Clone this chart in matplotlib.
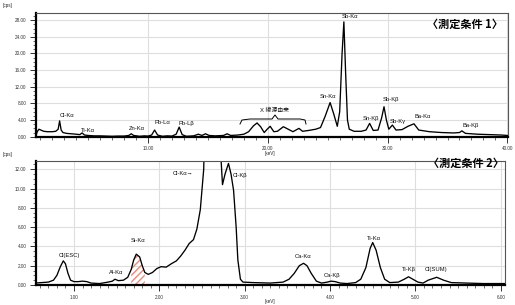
import matplotlib
matplotlib.use("Agg")
import matplotlib.pyplot as plt
from matplotlib.ticker import MultipleLocator, FormatStrFormatter

plt.rcParams['font.family'] = ['Liberation Sans', 'Noto Sans CJK JP', 'DejaVu Sans']

# ---- Spectrum 1 (measurement condition 1) ----
kev1 = [0.65, 0.75, 0.9, 1.05, 1.3, 1.6, 2.0, 2.3, 2.5, 2.62, 2.75, 2.9, 3.2, 3.6, 4.0, 4.3,
        4.5, 4.7, 5.0, 5.5, 6.0, 6.5, 7.0, 7.5, 8.0, 8.4, 8.6, 8.8, 9.3, 9.7, 10.0, 10.3, 10.55,
        10.8, 11.2, 11.6, 12.0, 12.35, 12.6, 12.85, 13.2, 13.8, 14.2, 14.5, 14.8, 15.1, 15.6,
        16.3, 16.6, 16.9, 17.5, 18.0, 18.4, 18.8, 19.1, 19.4, 19.7, 19.95, 20.2, 20.5, 20.8,
        21.3, 21.7, 22.1, 22.6, 22.9, 23.4, 24.0, 24.4, 24.8, 25.2, 25.5, 25.8, 26.0, 26.2,
        26.35, 26.5, 26.65, 26.8, 27.2, 27.8, 28.2, 28.5, 28.8, 29.2, 29.5, 29.7, 29.9, 30.1,
        30.4, 30.7, 31.2, 31.7, 32.2, 32.6, 33.5, 34.5, 35.5, 36.0, 36.2, 36.5, 37.5, 38.5,
        39.5, 40.0]
cps1 = [0.2, 1.2, 1.8, 1.6, 1.3, 1.2, 1.2, 1.3, 1.8, 3.8, 1.6, 1.0, 0.8, 0.7, 0.6, 0.5,
        0.9, 0.4, 0.3, 0.2, 0.2, 0.15, 0.1, 0.15, 0.15, 0.3, 0.7, 0.3, 0.1, 0.2, 0.15, 0.4, 1.6,
        0.4, 0.1, 0.2, 0.15, 0.6, 2.3, 0.5, 0.1, 0.2, 0.6, 0.3, 0.7, 0.3, 0.2,
        0.3, 0.7, 0.3, 0.4, 0.6, 1.2, 2.6, 3.3, 2.4, 1.0, 1.8, 2.5, 1.2, 1.3,
        2.4, 1.8, 1.2, 2.0, 1.3, 1.5, 1.8, 2.2, 5.0, 8.2, 5.5, 2.5, 6.0, 20.0,
        27.6, 15.0, 4.0, 1.8, 1.3, 1.3, 1.6, 3.2, 1.5, 1.6, 4.5, 7.2, 4.0, 1.8,
        2.8, 1.6, 1.7, 2.5, 3.1, 1.6, 1.2, 1.0, 0.9, 1.0, 1.4, 0.8, 0.6, 0.5,
        0.4, 0.3]

# ---- Spectrum 2 (measurement condition 2) ----
kev2 = [0.55, 0.62, 0.7, 0.76, 0.8, 0.84, 0.875, 0.9, 0.93, 0.96, 1.0, 1.05, 1.1, 1.15, 1.2,
        1.3, 1.4, 1.45, 1.48, 1.52, 1.58, 1.63, 1.67, 1.70, 1.73, 1.77, 1.80, 1.83, 1.87, 1.92,
        1.97, 2.02, 2.08, 2.14, 2.2, 2.25, 2.3, 2.35, 2.4, 2.44, 2.48, 2.52, 2.56, 2.62, 2.68,
        2.72, 2.74, 2.77, 2.81, 2.84, 2.87, 2.9, 2.92, 2.95, 2.98, 3.1, 3.3, 3.45, 3.52, 3.58,
        3.64, 3.69, 3.73, 3.78, 3.84, 3.9, 3.97, 4.01, 4.06, 4.12, 4.2, 4.3, 4.36, 4.42, 4.47,
        4.5, 4.54, 4.59, 4.64, 4.7, 4.8, 4.87, 4.92, 4.97, 5.03, 5.09, 5.15, 5.25, 5.33, 5.42,
        5.6, 5.8, 6.05]
cps2 = [0.2, 0.25, 0.3, 0.5, 1.0, 1.9, 2.5, 2.2, 1.2, 0.5, 0.35, 0.35, 0.4, 0.35, 0.2,
        0.15, 0.3, 0.4, 0.6, 0.45, 0.5, 0.8, 1.6, 2.6, 3.2, 2.9, 2.0, 1.3, 1.1, 1.3,
        1.7, 1.9, 1.85, 2.2, 2.5, 3.0, 3.6, 4.3, 4.7, 5.8, 7.8, 12.0, 30.0, 60.0, 30.0,
        13.5, 10.4, 11.5, 12.6, 11.5, 9.8, 6.0, 2.6, 0.6, 0.3, 0.25, 0.2, 0.3, 0.6, 1.2,
        2.0, 2.25, 2.0, 1.2, 0.4, 0.2, 0.3, 0.4, 0.35, 0.2, 0.15, 0.25, 0.6, 1.8, 3.8,
        4.4, 3.6, 1.8, 0.6, 0.25, 0.3, 0.6, 0.85, 0.6, 0.3, 0.2, 0.5, 0.8, 0.5, 0.25,
        0.2, 0.15, 0.15]

si_range = (1.65, 1.86)

labels1 = [("Cl-Kα", 67, 116), ("Ti-Kα", 88, 130), ("Zn-Kα", 137, 128), ("Pb-Lα", 162, 123),
           ("Pb-Lβ", 186, 123), ("X 線源由来", 275, 110), ("Sn-Kα", 328, 97), ("Sb-Kα", 350, 17),
           ("Sn-Kβ", 371, 118), ("Sb-Kβ", 391, 99), ("Sb-Kγ", 398, 122), ("Ba-Kα", 423, 117),
           ("Ba-Kβ", 471, 126)]
labels2 = [("Cl(ESC)", 69, 256), ("Al-Kα", 116, 272), ("Si-Kα", 138, 240), ("Cl-Kα→", 183, 173),
           ("Cl-Kβ", 240, 175), ("Ca-Kα", 303, 257), ("Ca-Kβ", 332, 276), ("Ti-Kα", 374, 238),
           ("Ti-Kβ", 409, 269), ("Cl(SUM)", 436, 269)]

W, H = 515, 305
fig = plt.figure(figsize=(W / 100, H / 100), dpi=100)
fig.patch.set_facecolor('white')

def fx(px):
    return px / W

def fy(py):
    return 1 - py / H

ax1 = fig.add_axes([fx(36), fy(136.7), fx(508) - fx(36), fy(12.7) - fy(136.7)])
ax2 = fig.add_axes([fx(36), fy(285), fx(505) - fx(36), fy(161) - fy(285)])

def style(ax, major_x, minor_x, major_y, minor_y):
    ax.xaxis.set_major_locator(MultipleLocator(major_x))
    ax.xaxis.set_minor_locator(MultipleLocator(minor_x))
    ax.yaxis.set_major_locator(MultipleLocator(major_y))
    ax.yaxis.set_minor_locator(MultipleLocator(minor_y))
    ax.xaxis.set_major_formatter(FormatStrFormatter('%.2f'))
    ax.yaxis.set_major_formatter(FormatStrFormatter('%.2f'))
    ax.grid(True, which='major', color='#dedede', linewidth=0.8)
    ax.set_axisbelow(True)
    ax.tick_params(axis='both', which='major', labelsize=3.3, length=4, width=0.7,
                   direction='out', pad=3, colors='#333333')
    ax.tick_params(axis='both', which='minor', length=2, width=0.5, direction='out', colors='#333333')
    for s in ['top', 'right']:
        ax.spines[s].set_color('#555555')
        ax.spines[s].set_linewidth(0.8)
    ax.spines['left'].set_linewidth(1.6)
    ax.spines['bottom'].set_linewidth(1.6)

ax1.plot(kev1, cps1, color='black', linewidth=0.95)
ax1.set_xlim(0.65, 40.05)
ax1.set_ylim(0, 29.8)
style(ax1, 10, 1, 4, 1)

ax2.plot(kev2, cps2, color='black', linewidth=0.95)
sel = [i for i, k in enumerate(kev2) if si_range[0] <= k <= si_range[1]]
ax2.fill_between([kev2[i] for i in sel], [cps2[i] for i in sel], 0, facecolor='none',
                 edgecolor='#f08878', hatch='/////', linewidth=0)
ax2.set_xlim(0.555, 6.05)
ax2.set_ylim(0, 12.85)
style(ax2, 1, 0.1, 2, 0.5)

for t, x, y in labels1 + labels2:
    fig.text(fx(x), fy(y), t, fontsize=4.2, ha='center', va='center', color='#111111')

# bracket for X-ray source region
bx = [240, 242, 250, 272, 275, 278, 300, 305, 306]
by = [124, 120, 119, 119, 115, 119, 119, 120, 124]
fig.add_artist(plt.Line2D([fx(v) for v in bx], [fy(v) for v in by], color='black', linewidth=0.7))

fig.text(fx(465), fy(24), "〈測定条件 1〉", fontsize=8, fontweight='bold', ha='center', va='center',
         family=['Noto Sans CJK JP'])
fig.text(fx(466), fy(163), "〈測定条件 2〉", fontsize=8, fontweight='bold', ha='center', va='center',
         family=['Noto Sans CJK JP'])

for x, y, t in [(8, 5, "[cps]"), (270, 153, "[keV]"), (8, 154, "[cps]"), (270, 301, "[keV]")]:
    fig.text(fx(x), fy(y), t, fontsize=3.3, ha='center', va='center', color='#222222')

fig.savefig('out.png', dpi=100, facecolor='white')
